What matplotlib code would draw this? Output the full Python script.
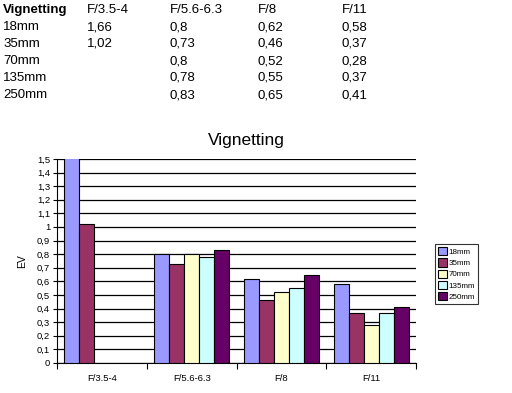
import numpy as np
import matplotlib.pyplot as plt

plt.rcParams['font.family'] = ['Liberation Sans', 'DejaVu Sans']

apertures = ['F/3.5-4', 'F/5.6-6.3', 'F/8', 'F/11']
lenses = ['18mm', '35mm', '70mm', '135mm', '250mm']
ev_18 = [1.66, 0.8, 0.62, 0.58]
ev_35 = [1.02, 0.73, 0.46, 0.37]
ev_70 = [None, 0.8, 0.52, 0.28]
ev_135 = [None, 0.78, 0.55, 0.37]
ev_250 = [None, 0.83, 0.65, 0.41]
series = [ev_18, ev_35, ev_70, ev_135, ev_250]
colors = ['#9999FF', '#993366', '#FFFFCC', '#CCFFFF', '#660066']


def fmt(v):
    if v is None:
        return ''
    return ('%g' % v).replace('.', ',')


fig = plt.figure(figsize=(5.12, 3.93), dpi=100)

# table at top
col_x = [3, 87, 170, 258, 342]
row_y = [10, 27, 44, 61, 78, 95]
fig.text(col_x[0] / 512, 1 - row_y[0] / 393, 'Vignetting', fontsize=9.5,
         fontweight='bold', va='center', ha='left')
for i, a in enumerate(apertures):
    fig.text(col_x[i + 1] / 512, 1 - row_y[0] / 393, a, fontsize=9.5,
             va='center', ha='left')
for r, lens in enumerate(lenses):
    y = 1 - row_y[r + 1] / 393
    fig.text(col_x[0] / 512, y, lens, fontsize=9.5, va='center', ha='left')
    for i in range(len(apertures)):
        fig.text(col_x[i + 1] / 512, y, fmt(series[r][i]), fontsize=9.5,
                 va='center', ha='left')

ax = fig.add_axes([57 / 512, 1 - 363 / 393, 359 / 512, 204 / 393])

w = 1 / 6
x = np.arange(len(apertures))
for j, (vals, c) in enumerate(zip(series, colors)):
    v = [np.nan if val is None else val for val in vals]
    ax.bar(x + (j - 2) * w, v, width=w, color=c, edgecolor='black',
           linewidth=0.8, label=lenses[j], zorder=3)

ax.set_xlim(-0.5, 3.5)
ax.set_ylim(0, 1.5)
yt = np.round(np.arange(0, 1.51, 0.1), 1)
ax.set_yticks(yt)
ax.set_yticklabels([('%g' % t).replace('.', ',') for t in yt], fontsize=6.8)
ax.yaxis.grid(True, color='black', linewidth=0.9, zorder=0)
ax.tick_params(axis='y', length=3, width=0.8, pad=2)

ax.set_xticks(np.arange(-0.5, 3.6, 1))
ax.set_xticklabels([])
ax.set_xticks(x, minor=True)
ax.set_xticklabels(apertures, minor=True, fontsize=6.8)
ax.tick_params(axis='x', which='major', length=4, width=0.8)
ax.tick_params(axis='x', which='minor', length=0, pad=8)

for s in ['top', 'right']:
    ax.spines[s].set_visible(False)
ax.spines['left'].set_linewidth(0.8)
ax.spines['bottom'].set_linewidth(0.8)

ax.set_ylabel('EV', fontsize=7.5, labelpad=7)
fig.text(246.5 / 512, 1 - 140 / 393, 'Vignetting', fontsize=12.5,
         ha='center', va='center')

leg = fig.legend(loc='center', bbox_to_anchor=(456.5 / 512, 1 - 274 / 393),
                 fontsize=5.8, frameon=True, fancybox=False, edgecolor='black',
                 handlelength=1.2, handleheight=1.2, handletextpad=0.2,
                 labelspacing=0.3, borderpad=0.35, borderaxespad=0)
leg.get_frame().set_linewidth(0.8)

fig.savefig('out.png', dpi=100)
